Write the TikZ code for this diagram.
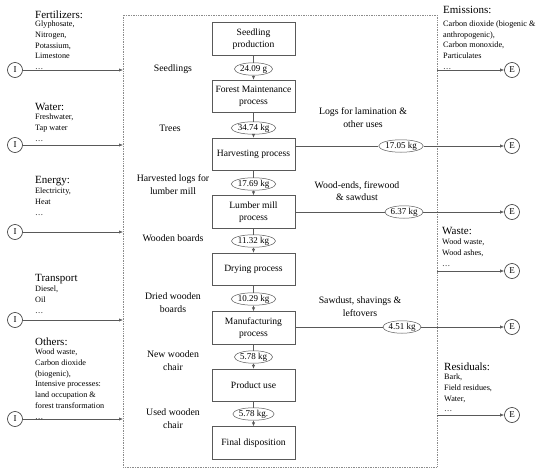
\documentclass[tikz,border=0pt]{standalone}
\usepackage{fontspec}
\setmainfont{Liberation Serif}
\usetikzlibrary{arrows.meta,shapes.geometric}
\begin{document}
\begin{tikzpicture}[x=1pt,y=-1pt,
  proc/.style={draw=black!65, line width=0.6pt, minimum width=83pt, minimum height=32.5pt, align=center, inner sep=0pt, font=\fontsize{9.6}{12}\selectfont},
  qty/.style={ellipse, draw=black!65, line width=0.5pt, minimum width=37pt, minimum height=12.5pt, inner sep=0pt, font=\fontsize{9}{9}\selectfont},
  lbl/.style={align=center, inner sep=0pt, font=\fontsize{9.8}{12.8}\selectfont},
  io/.style={circle, draw=black!80, line width=0.6pt, minimum size=15pt, inner sep=0pt, font=\fontsize{9}{9}\selectfont},
  head/.style={anchor=west, inner sep=0pt, font=\fontsize{11}{11}\selectfont},
  lst/.style={anchor=north west, align=left, inner sep=0pt, font=\fontsize{8.2}{10.7}\selectfont},
  flow/.style={draw=black!65, line width=0.6pt, -{Latex[length=4pt,width=3.2pt]}},
  plain/.style={draw=black!65, line width=0.6pt},
  frame/.style={draw=black!45, dash pattern=on 0.8pt off 0.9pt, line width=0.6pt}
]
\useasboundingbox (0,0) rectangle (550,474);
\draw[frame] (123,15) rectangle (437,467);

% process chain
\node[proc] (p1) at (253.5,39) {Seedling\\production};
\node[qty]  (q1) at (253.5,69) {24.09 g};
\node[proc] (p2) at (253.5,96.5) {Forest Maintenance\\process};
\node[qty]  (q2) at (253.5,128) {34.74 kg};
\node[proc] (p3) at (253.5,154.5) {Harvesting process};
\node[qty]  (q3) at (253.5,184) {17.69 kg};
\node[proc] (p4) at (253.5,212) {Lumber mill\\process};
\node[qty]  (q4) at (253.5,241) {11.32 kg};
\node[proc] (p5) at (253.5,269.5) {Drying process};
\node[qty]  (q5) at (253.5,299) {10.29 kg};
\node[proc] (p6) at (253.5,328) {Manufacturing\\process};
\node[qty]  (q6) at (253.5,357) {5.78 kg};
\node[proc] (p7) at (253.5,385.5) {Product use};
\node[qty]  (q7) at (253.5,414) {5.78 kg.};
\node[proc] (p8) at (253.5,443) {Final disposition};

\foreach \a/\b/\c in {p1/q1/p2,p2/q2/p3,p3/q3/p4,p4/q4/p5,p5/q5/p6,p6/q6/p7,p7/q7/p8}{
  \draw[plain] (\a.south) -- (\b.north);
  \draw[flow] (\b.south) -- (\c.north);
}

% flow labels
\node[lbl] (l1) at (173,69) {Seedlings};
\node[lbl] (l2) at (170,128) {Trees};
\node[lbl] (l3) at (173,184.5) {Harvested logs for\\lumber mill};
\node[lbl] (l4) at (173,238) {Wooden boards};
\node[lbl] (l5) at (173,303) {Dried wooden\\boards};
\node[lbl] (l6) at (173,361) {New wooden\\chair};
\node[lbl] (l7) at (173,419) {Used wooden\\chair};

% side branches
\node[qty] (s1) at (401,146) {17.05 kg};
\node[qty] (s2) at (404,212) {6.37 kg};
\node[qty] (s3) at (402,327) {4.51 kg};
\node[lbl] (sl1) at (363,117.5) {Logs for lamination \&\\other uses};
\node[lbl] (sl2) at (357,191) {Wood-ends, firewood\\\& sawdust};
\node[lbl] (sl3) at (360,306.5) {Sawdust, shavings \&\\leftovers};

% outputs
\node[io] (e1) at (512,70) {E};
\node[io] (e2) at (512,146) {E};
\node[io] (e3) at (512,212) {E};
\node[io] (e4) at (512,271) {E};
\node[io] (e5) at (512,327) {E};
\node[io] (e6) at (512,415) {E};

\draw[plain] (s1.west -| p3.east) -- (s1.west);
\draw[flow] (s1.east) -- (e2.west);
\draw[plain] (p4.east) -- (s2.west);
\draw[flow] (s2.east) -- (e3.west);
\draw[plain] (s3.west -| p6.east) -- (s3.west);
\draw[flow] (s3.east) -- (e5.west);

\coordinate (r1) at (437,70);
\coordinate (r2) at (437,271);
\coordinate (r3) at (437,415);
\draw[flow] (r1) -- (e1.west);
\draw[flow] (r2) -- (e4.west);
\draw[flow] (r3) -- (e6.west);

\node[head] (h1) at (443,10) {Emissions:};
\node[lst] (t1) at (443,20.5) {Carbon dioxide (biogenic \&\\anthropogenic),\\Carbon monoxide,\\Particulates\\\dots};
\node[head] (h2) at (442,231) {Waste:};
\node[lst] (t2) at (442,239) {Wood waste,\\Wood ashes,\\\dots};
\node[head] (h3) at (444,367) {Residuals:};
\node[lst] (t3) at (444,374) {Bark,\\Field residues,\\Water,\\\dots};

% inputs
\node[io] (i1) at (15,70) {I};
\node[io] (i2) at (15,145) {I};
\node[io] (i3) at (15,232) {I};
\node[io] (i4) at (15,320) {I};
\node[io] (i5) at (15,419) {I};
\coordinate (f1) at (123,70);
\coordinate (f2) at (123,145);
\coordinate (f3) at (123,232);
\coordinate (f4) at (123,320);
\coordinate (f5) at (123,419);
\foreach \i in {1,...,5}{ \draw[flow] (i\i.east) -- (f\i); }

\node[head] (g1) at (35,15) {Fertilizers:};
\node[lst] (u1) at (35,21) {Glyphosate,\\Nitrogen,\\Potassium,\\Limestone\\\dots};
\node[head] (g2) at (35,107) {Water:};
\node[lst] (u2) at (35,114) {Freshwater,\\Tap water\\\dots};
\node[head] (g3) at (35,181) {Energy:};
\node[lst] (u3) at (35,188) {Electricity,\\Heat\\\dots};
\node[head] (g4) at (35,279) {Transport};
\node[lst] (u4) at (35,286) {Diesel,\\Oil\\\dots};
\node[head] (g5) at (35,342) {Others:};
\node[lst] (u5) at (35,349) {Wood waste,\\Carbon dioxide\\(biogenic),\\Intensive processes:\\land occupation \&\\forest transformation\\\dots};
\end{tikzpicture}
\end{document}
